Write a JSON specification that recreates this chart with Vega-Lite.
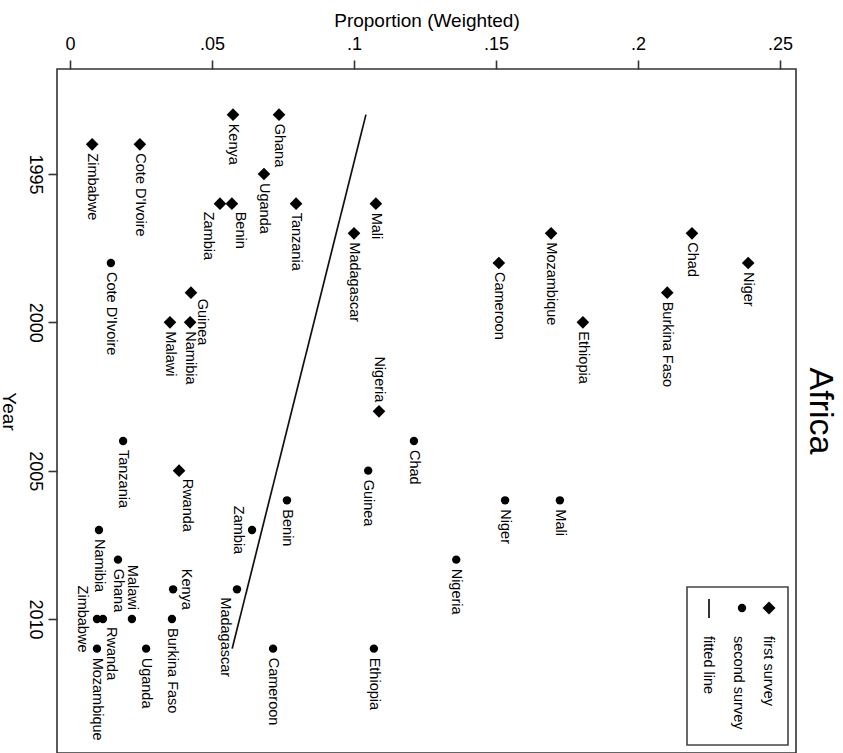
{
  "$schema": "https://vega.github.io/schema/vega-lite/v6.json",
  "width": 739,
  "height": 684,
  "autosize": {"type": "none"},
  "padding": {"left": 57, "top": 69, "right": 47, "bottom": 0},
  "background": "white",
  "title": {
    "text": "Africa",
    "orient": "right",
    "anchor": "middle",
    "offset": 7,
    "font": "Liberation Sans",
    "fontSize": 34,
    "fontWeight": "normal",
    "color": "#000"
  },
  "config": {
    "view": {"stroke": "#333", "strokeWidth": 1.6},
    "font": "Liberation Sans",
    "axis": {
      "grid": false,
      "domain": false,
      "tickColor": "#333",
      "tickWidth": 1.6,
      "tickSize": 9,
      "labelFont": "Liberation Sans",
      "labelFontSize": 18,
      "labelColor": "#000",
      "titleFont": "Liberation Sans",
      "titleFontSize": 19,
      "titleFontWeight": "normal",
      "titleColor": "#000"
    },
    "text": {"font": "Liberation Sans", "fontSize": 14.5, "color": "#000", "angle": 90, "baseline": "middle"}
  },
  "datasets": {
    "surveys": [
      {"country": "Kenya", "survey": "first survey", "year": 1993, "share": 0.0574},
      {"country": "Ghana", "survey": "first survey", "year": 1993, "share": 0.0736},
      {"country": "Zimbabwe", "survey": "first survey", "year": 1994, "share": 0.0078},
      {"country": "Cote D'Ivoire", "survey": "first survey", "year": 1994, "share": 0.0246},
      {"country": "Uganda", "survey": "first survey", "year": 1995, "share": 0.0683},
      {"country": "Zambia", "survey": "first survey", "year": 1996, "share": 0.0528},
      {"country": "Benin", "survey": "first survey", "year": 1996, "share": 0.0570},
      {"country": "Tanzania", "survey": "first survey", "year": 1996, "share": 0.0796},
      {"country": "Mali", "survey": "first survey", "year": 1996, "share": 0.1077},
      {"country": "Madagascar", "survey": "first survey", "year": 1997, "share": 0.1000},
      {"country": "Mozambique", "survey": "first survey", "year": 1997, "share": 0.1694},
      {"country": "Chad", "survey": "first survey", "year": 1997, "share": 0.2190},
      {"country": "Cameroon", "survey": "first survey", "year": 1998, "share": 0.1510},
      {"country": "Niger", "survey": "first survey", "year": 1998, "share": 0.2388},
      {"country": "Guinea", "survey": "first survey", "year": 1999, "share": 0.0426},
      {"country": "Burkina Faso", "survey": "first survey", "year": 1999, "share": 0.2103},
      {"country": "Namibia", "survey": "first survey", "year": 2000, "share": 0.0423},
      {"country": "Malawi", "survey": "first survey", "year": 2000, "share": 0.0352},
      {"country": "Ethiopia", "survey": "first survey", "year": 2000, "share": 0.1806},
      {"country": "Nigeria", "survey": "first survey", "year": 2003, "share": 0.1088},
      {"country": "Rwanda", "survey": "first survey", "year": 2005, "share": 0.0384},
      {"country": "Cote D'Ivoire", "survey": "second survey", "year": 1998, "share": 0.0144},
      {"country": "Tanzania", "survey": "second survey", "year": 2004, "share": 0.0187},
      {"country": "Chad", "survey": "second survey", "year": 2004, "share": 0.1211},
      {"country": "Guinea", "survey": "second survey", "year": 2005, "share": 0.1050},
      {"country": "Benin", "survey": "second survey", "year": 2006, "share": 0.0764},
      {"country": "Mali", "survey": "second survey", "year": 2006, "share": 0.1725},
      {"country": "Niger", "survey": "second survey", "year": 2006, "share": 0.1532},
      {"country": "Zambia", "survey": "second survey", "year": 2007, "share": 0.0641},
      {"country": "Namibia", "survey": "second survey", "year": 2007, "share": 0.0102},
      {"country": "Ghana", "survey": "second survey", "year": 2008, "share": 0.0169},
      {"country": "Nigeria", "survey": "second survey", "year": 2008, "share": 0.1360},
      {"country": "Kenya", "survey": "second survey", "year": 2009, "share": 0.0363},
      {"country": "Madagascar", "survey": "second survey", "year": 2009, "share": 0.0588},
      {"country": "Malawi", "survey": "second survey", "year": 2010, "share": 0.0218},
      {"country": "Burkina Faso", "survey": "second survey", "year": 2010, "share": 0.0359},
      {"country": "Zimbabwe", "survey": "second survey", "year": 2010, "share": 0.0095},
      {"country": "Rwanda", "survey": "second survey", "year": 2010, "share": 0.0116},
      {"country": "Uganda", "survey": "second survey", "year": 2011, "share": 0.0268},
      {"country": "Mozambique", "survey": "second survey", "year": 2011, "share": 0.0095},
      {"country": "Cameroon", "survey": "second survey", "year": 2011, "share": 0.0715},
      {"country": "Ethiopia", "survey": "second survey", "year": 2011, "share": 0.1070}
    ],
    "fit": [
      {"year": 1993, "share": 0.1042},
      {"year": 2011, "share": 0.0571}
    ],
    "legendBox": [
      {"label": "survey legend"}
    ]
  },
  "layer": [
    {
      "data": {"name": "fit"},
      "mark": {"type": "line", "color": "#111", "strokeWidth": 1.7},
      "encoding": {
        "x": {"field": "share", "type": "quantitative"},
        "y": {"field": "year", "type": "quantitative"}
      }
    },
    {
      "data": {"name": "surveys"},
      "mark": {"type": "point", "filled": true, "opacity": 1, "color": "#000"},
      "encoding": {
        "x": {
          "field": "share",
          "type": "quantitative",
          "title": "Proportion (Weighted)",
          "scale": {"domain": [-0.004577, 0.255634], "nice": false, "zero": false},
          "axis": {
            "orient": "top",
            "title": "Proportion (Weighted)",
            "values": [0, 0.05, 0.1, 0.15, 0.2, 0.25],
            "labelExpr": "datum.value == 0 ? '0' : replace(format(datum.value, '.2~f'), '0.', '.')",
            "labelPadding": 7,
            "titlePadding": 5
          }
        },
        "y": {
          "field": "year",
          "type": "quantitative",
          "title": "Year",
          "scale": {"domain": [1991.461, 2014.517], "nice": false, "zero": false, "reverse": true},
          "axis": {
            "orient": "left",
            "title": "Year",
            "values": [1995, 2000, 2005, 2010],
            "format": "d",
            "labelAngle": 90,
            "labelAlign": "center",
            "labelBaseline": "top",
            "labelPadding": 5,
            "titleAngle": 90,
            "titlePadding": 27
          }
        },
        "shape": {
          "field": "survey",
          "type": "nominal",
          "scale": {"domain": ["first survey", "second survey"], "range": ["diamond", "circle"]},
          "legend": null
        },
        "size": {
          "condition": {"test": "datum.survey === 'first survey'", "value": 160},
          "value": 70
        }
      }
    },
    {
      "data": {"name": "surveys"},
      "transform": [
        {"calculate": "datum.country + '|' + datum.survey", "as": "key"},
        {"filter": "indexof(['Nigeria|first survey','Malawi|second survey','Zambia|second survey','Zimbabwe|second survey','Kenya|second survey','Zambia|first survey','Madagascar|second survey','Benin|first survey','Guinea|first survey','Rwanda|second survey','Rwanda|first survey'], datum.key) < 0"}
      ],
      "mark": {"type": "text", "align": "left", "dx": 9},
      "encoding": {
        "x": {"field": "share", "type": "quantitative"},
        "y": {"field": "year", "type": "quantitative"},
        "text": {"field": "country"}
      }
    },
    {
      "data": {"name": "surveys"},
      "transform": [
        {"calculate": "datum.country + '|' + datum.survey", "as": "key"},
        {"filter": "indexof(['Nigeria|first survey','Malawi|second survey'], datum.key) >= 0"}
      ],
      "mark": {"type": "text", "align": "right", "dx": -9},
      "encoding": {
        "x": {"field": "share", "type": "quantitative"},
        "y": {"field": "year", "type": "quantitative"},
        "text": {"field": "country"}
      }
    },
    {
      "data": {"name": "surveys"},
      "transform": [
        {"calculate": "datum.country + '|' + datum.survey", "as": "key"},
        {"filter": "indexof(['Zambia|second survey','Zimbabwe|second survey'], datum.key) >= 0"}
      ],
      "mark": {"type": "text", "align": "center", "dy": 14.5},
      "encoding": {
        "x": {"field": "share", "type": "quantitative"},
        "y": {"field": "year", "type": "quantitative"},
        "text": {"field": "country"}
      }
    },
    {
      "data": {"name": "surveys"},
      "transform": [
        {"calculate": "datum.country + '|' + datum.survey", "as": "key"},
        {"filter": "indexof(['Kenya|second survey'], datum.key) >= 0"}
      ],
      "mark": {"type": "text", "align": "center", "dy": -13},
      "encoding": {
        "x": {"field": "share", "type": "quantitative"},
        "y": {"field": "year", "type": "quantitative"},
        "text": {"field": "country"}
      }
    },
    {
      "data": {"name": "surveys"},
      "transform": [
        {"calculate": "datum.country + '|' + datum.survey", "as": "key"},
        {"filter": "indexof(['Zambia|first survey','Madagascar|second survey'], datum.key) >= 0"}
      ],
      "mark": {"type": "text", "align": "left", "dx": 8, "dy": 12},
      "encoding": {
        "x": {"field": "share", "type": "quantitative"},
        "y": {"field": "year", "type": "quantitative"},
        "text": {"field": "country"}
      }
    },
    {
      "data": {"name": "surveys"},
      "transform": [
        {"calculate": "datum.country + '|' + datum.survey", "as": "key"},
        {"filter": "indexof(['Benin|first survey','Rwanda|second survey','Rwanda|first survey'], datum.key) >= 0"}
      ],
      "mark": {"type": "text", "align": "left", "dx": 8, "dy": -8},
      "encoding": {
        "x": {"field": "share", "type": "quantitative"},
        "y": {"field": "year", "type": "quantitative"},
        "text": {"field": "country"}
      }
    },
    {
      "data": {"name": "surveys"},
      "transform": [
        {"calculate": "datum.country + '|' + datum.survey", "as": "key"},
        {"filter": "indexof(['Guinea|first survey'], datum.key) >= 0"}
      ],
      "mark": {"type": "text", "align": "left", "dx": 6, "dy": -11},
      "encoding": {
        "x": {"field": "share", "type": "quantitative"},
        "y": {"field": "year", "type": "quantitative"},
        "text": {"field": "country"}
      }
    },
    {
      "data": {"name": "legendBox"},
      "mark": {"type": "rect", "fill": "white", "stroke": "#444", "strokeWidth": 1.6},
      "encoding": {
        "x": {"datum": 0.217254, "type": "quantitative"},
        "x2": {"datum": 0.252817},
        "y": {"datum": 2008.9215, "type": "quantitative"},
        "y2": {"datum": 2014.2473}
      }
    },
    {
      "data": {"name": "legendBox"},
      "mark": {"type": "point", "shape": "diamond", "filled": true, "opacity": 1, "color": "#000", "size": 170},
      "encoding": {
        "x": {"datum": 0.246127, "type": "quantitative"},
        "y": {"datum": 2009.6293, "type": "quantitative"}
      }
    },
    {
      "data": {"name": "legendBox"},
      "mark": {"type": "point", "shape": "circle", "filled": true, "opacity": 1, "color": "#000", "size": 70},
      "encoding": {
        "x": {"datum": 0.23662, "type": "quantitative"},
        "y": {"datum": 2009.6293, "type": "quantitative"}
      }
    },
    {
      "data": {"name": "legendBox"},
      "mark": {"type": "rule", "color": "#111", "strokeWidth": 1.7},
      "encoding": {
        "x": {"datum": 0.225, "type": "quantitative"},
        "y": {"datum": 2009.326, "type": "quantitative"},
        "y2": {"datum": 2009.9664}
      }
    },
    {
      "data": {"name": "legendBox"},
      "mark": {"type": "text", "align": "left", "text": "first survey"},
      "encoding": {
        "x": {"datum": 0.245599, "type": "quantitative"},
        "y": {"datum": 2010.5734, "type": "quantitative"}
      }
    },
    {
      "data": {"name": "legendBox"},
      "mark": {"type": "text", "align": "left", "text": "second survey"},
      "encoding": {
        "x": {"datum": 0.235387, "type": "quantitative"},
        "y": {"datum": 2010.5734, "type": "quantitative"}
      }
    },
    {
      "data": {"name": "legendBox"},
      "mark": {"type": "text", "align": "left", "text": "fitted line"},
      "encoding": {
        "x": {"datum": 0.224824, "type": "quantitative"},
        "y": {"datum": 2010.5734, "type": "quantitative"}
      }
    }
  ]
}
